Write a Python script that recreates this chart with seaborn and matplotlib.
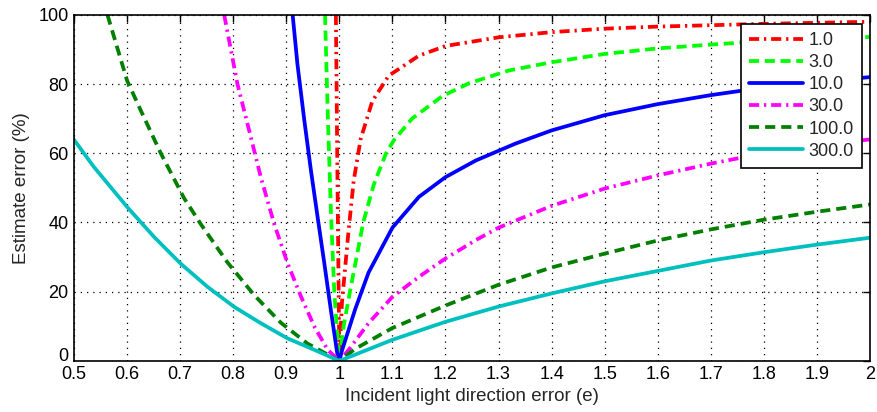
import pandas as pd
import seaborn as sns
import matplotlib.pyplot as plt
from matplotlib.transforms import ScaledTranslation

# values, one (x, y) list per curve
labels = ['1.0', '3.0', '10.0', '30.0', '100.0', '300.0']

x_1 = [0.9935, 0.996, 0.998, 1.0, 1.005, 1.0176, 1.027, 1.04, 1.062, 1.093, 1.15, 1.2,
       1.3, 1.4, 1.5, 1.6, 1.7, 1.8, 1.9, 2.0]
y_1 = [100, 60, 30, 0, 17, 38, 52, 64, 75, 82.4, 88.2, 91,
       93.5, 95, 96, 96.6, 97, 97.4, 97.7, 98]

x_3 = [0.973, 0.978, 0.984, 0.9906, 1.0, 1.008, 1.02, 1.045, 1.065, 1.088, 1.1025, 1.137,
       1.194, 1.244, 1.319, 1.4, 1.5, 1.6, 1.7, 1.8, 1.9, 2.0]
y_3 = [100, 72.3, 43.5, 19.5, 0, 10, 20, 40, 51, 60, 63.7, 70,
       76.5, 80.2, 83.9, 86.3, 88.7, 90.3, 91.4, 92.4, 93.1, 93.6]

x_10 = [0.912, 0.921, 0.934, 0.9465, 0.959, 0.9717, 0.984, 0.997, 1.0, 1.005, 1.03, 1.055,
        1.1, 1.15, 1.2, 1.257, 1.332, 1.4, 1.5, 1.6, 1.7, 1.8, 1.9, 2.0]
y_10 = [100, 85.8, 69.5, 55, 41.6, 28.2, 14.7, 1.2, 0, 3, 15, 25.5,
        38.5, 47.4, 53.1, 57.9, 62.8, 66.6, 71, 74.2, 76.8, 79, 80.7, 82]

x_30 = [0.783, 0.808, 0.8333, 0.852, 0.877, 0.9025, 0.928, 0.953, 0.978, 1.0, 1.0176, 1.055,
        1.1, 1.15, 1.2, 1.257, 1.3, 1.4, 1.5, 1.6, 1.7, 1.8, 1.9, 2.0]
y_30 = [100, 80, 64.6, 53.1, 39.7, 28.2, 18.5, 9.9, 3.2, 0, 3.2, 10.9,
        18.5, 24.3, 29.6, 34.9, 38.5, 44.8, 49.8, 53.6, 57, 60, 62.3, 64]

x_100 = [0.563, 0.6, 0.626, 0.6635, 0.7075, 0.739, 0.789, 0.8396, 0.89, 0.94, 1.0, 1.03,
         1.1, 1.2, 1.3, 1.4, 1.5, 1.6, 1.7, 1.8, 1.9, 2.0]
y_100 = [100, 81, 72.3, 60, 47, 39.5, 28.5, 19, 11, 5, 0, 3.5,
         9.5, 16, 22, 27, 31, 34.8, 38, 40.8, 43.1, 45.2]

x_300 = [0.5, 0.5377, 0.6, 0.651, 0.701, 0.7516, 0.802, 0.852, 0.9025, 0.953, 1.0,
         1.1, 1.2, 1.3, 1.4, 1.5, 1.6, 1.7, 1.8, 1.9, 2.0]
y_300 = [63.9, 56, 44.5, 35.8, 28.1, 21.4, 15.6, 10.9, 6.5, 3.2, 0,
         6.1, 11.3, 15.7, 19.5, 23, 26, 29, 31.4, 33.6, 35.6]

curves = [(x_1, y_1), (x_3, y_3), (x_10, y_10), (x_30, y_30), (x_100, y_100), (x_300, y_300)]
colors = ['#FF0000', '#00FF00', '#0000FF', '#FF00FF', '#007F00', '#00BFBF']
dashes = [(2.7, 1.3, 0.6, 1.3), (2.7, 1.5), (), (2.7, 1.3, 0.6, 1.3), (2.7, 1.6), ()]

sns.set_style('white')
plt.rcParams['font.family'] = ['Liberation Sans', 'DejaVu Sans']

fig = plt.figure(figsize=(8.77, 4.12), dpi=100)
ax = fig.add_axes([0.0844, 0.124, 0.9076, 0.840])

for label, (xs, ys), color, dash in zip(labels, curves, colors, dashes):
    df = pd.DataFrame({'x': xs, 'y': ys})
    sns.lineplot(data=df, x='x', y='y', ax=ax, color=color, linewidth=2.7,
                 label=label, sort=False, estimator=None)
    if dash:
        ax.lines[-1].set_dashes(dash)

ax.set_xlim(0.5, 2)
ax.set_ylim(0, 100)
ax.set_xticks([0.5, 0.6, 0.7, 0.8, 0.9, 1, 1.1, 1.2, 1.3, 1.4, 1.5, 1.6, 1.7, 1.8, 1.9, 2])
ax.set_xticklabels(['0.5', '0.6', '0.7', '0.8', '0.9', '1', '1.1', '1.2', '1.3', '1.4',
                    '1.5', '1.6', '1.7', '1.8', '1.9', '2'])
ax.set_yticks([0, 20, 40, 60, 80, 100])
ax.tick_params(direction='in', length=5, width=1, top=True, right=True,
               labelsize=13, colors='black', pad=4)
# MATLAB-style: the 0 on the y axis sits a little above its tick
ylabels = ax.get_yticklabels()
ylabels[0].set_transform(ylabels[0].get_transform() + ScaledTranslation(0, 6 / 100, fig.dpi_scale_trans))

ax.grid(True, color='black', linestyle=(0, (1, 4)), linewidth=0.9)
for s in ax.spines.values():
    s.set_color('black')
    s.set_linewidth(1.2)

ax.set_xlabel('Incident light direction error (e)', fontsize=13.5, labelpad=3)
ax.set_ylabel('Estimate error (%)', fontsize=13.5, labelpad=6)

leg = ax.legend(loc='upper right', bbox_to_anchor=(0.990, 0.973), fontsize=13,
                frameon=True, fancybox=False, framealpha=1, edgecolor='black',
                handlelength=3.0, handletextpad=0.3, labelspacing=0.28,
                borderpad=0.45, borderaxespad=0)
leg.get_frame().set_linewidth(1.2)

plt.savefig('out.png', dpi=100)
